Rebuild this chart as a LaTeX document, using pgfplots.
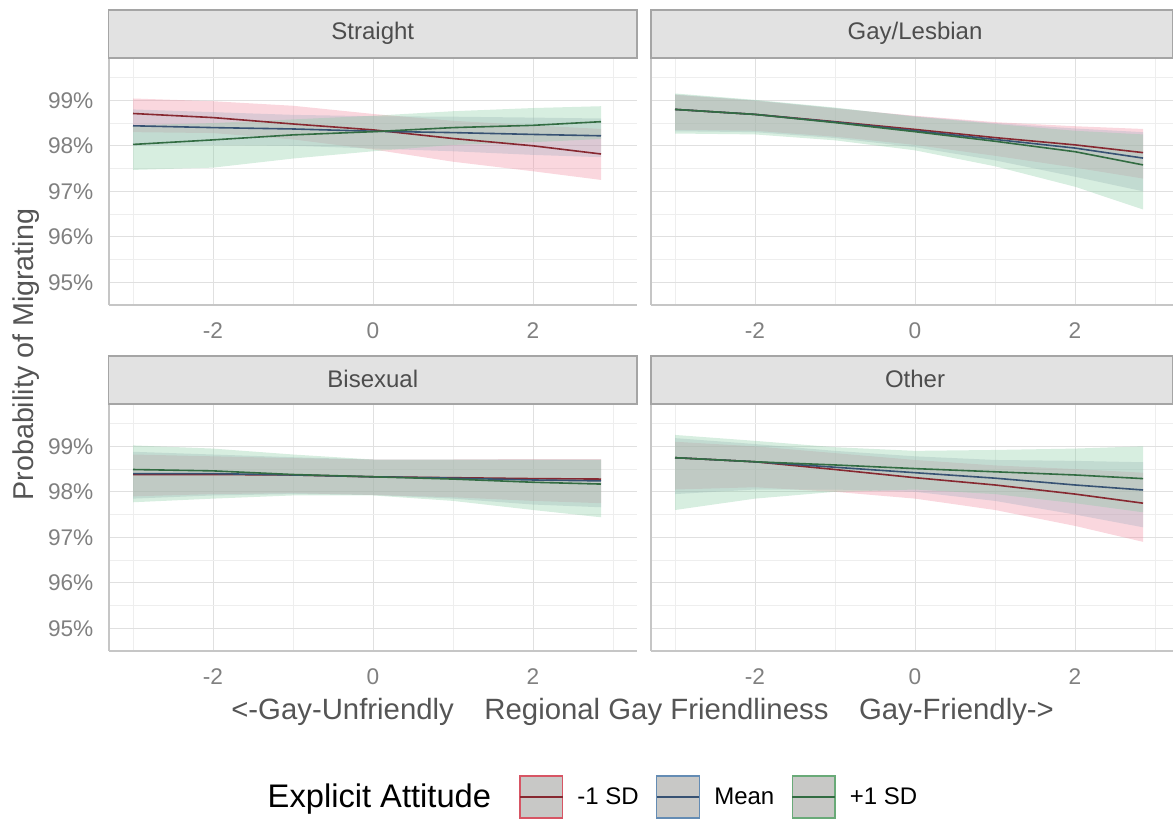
\documentclass[border=0pt]{standalone}
\usepackage{fontspec}
\setmainfont{Liberation Sans}
\usepackage{pgfplots}
\pgfplotsset{compat=1.18}
\usepackage{pgfplotstable}
\usepgfplotslibrary{fillbetween}

\definecolor{redfill}{RGB}{240,140,160}
\definecolor{greenfill}{RGB}{140,205,165}
\definecolor{bluefill}{RGB}{165,175,195}
\definecolor{redline}{RGB}{135,40,48}
\definecolor{blueline}{RGB}{55,82,115}
\definecolor{greenline}{RGB}{50,108,66}
\definecolor{redkey}{RGB}{215,85,100}
\definecolor{bluekey}{RGB}{100,140,180}
\definecolor{greenkey}{RGB}{105,170,120}
\definecolor{keyfill}{RGB}{200,200,198}
\definecolor{stripfill}{RGB}{226,226,226}
\definecolor{stripdraw}{RGB}{165,165,165}
\definecolor{gridmaj}{RGB}{224,224,224}
\definecolor{gridmin}{RGB}{238,238,238}
\definecolor{ticktext}{RGB}{128,128,128}
\definecolor{striptext}{RGB}{77,77,77}
\definecolor{titletext}{RGB}{85,85,85}

% x  = regional gay friendliness; r/b/g = -1 SD / Mean / +1 SD; m = line, l/h = ribbon
\pgfplotstableread{
x     rm    rl    rh    bm    bl    bh    gm    gl    gh
-3    98.71 98.30 99.04 98.44 98.00 98.80 98.03 97.47 98.45
-2    98.62 98.28 98.98 98.40 98.02 98.74 98.13 97.52 98.50
-1    98.48 98.14 98.88 98.37 98.00 98.68 98.24 97.72 98.58
0     98.35 97.92 98.70 98.32 97.94 98.65 98.31 97.88 98.66
1     98.16 97.65 98.55 98.29 97.88 98.64 98.40 98.02 98.76
2     98.00 97.44 98.45 98.25 97.80 98.62 98.45 98.08 98.83
2.85  97.82 97.25 98.37 98.22 97.75 98.60 98.53 98.15 98.87
}\Straight

\pgfplotstableread{
x     rm    rl    rh    bm    bl    bh    gm    gl    gh
-3    98.80 98.35 99.12 98.80 98.32 99.13 98.80 98.27 99.15
-2    98.69 98.33 98.99 98.69 98.30 99.00 98.69 98.25 99.01
-1    98.53 98.20 98.82 98.52 98.17 98.83 98.51 98.12 98.84
0     98.36 98.02 98.66 98.33 97.97 98.65 98.31 97.90 98.64
1     98.18 97.78 98.52 98.14 97.68 98.50 98.10 97.55 98.48
2     98.02 97.52 98.43 97.95 97.32 98.38 97.87 97.10 98.33
2.85  97.85 97.28 98.37 97.73 97.00 98.30 97.58 96.60 98.25
}\GayLesbian

\pgfplotstableread{
x     rm    rl    rh    bm    bl    bh    gm    gl    gh
-3    98.38 97.90 98.82 98.40 97.85 98.88 98.49 97.77 99.02
-2    98.38 97.95 98.78 98.40 97.92 98.82 98.46 97.85 98.95
-1    98.37 97.97 98.74 98.37 97.95 98.76 98.38 97.92 98.82
0     98.33 97.93 98.71 98.33 97.93 98.71 98.33 97.92 98.71
1     98.31 97.88 98.71 98.30 97.85 98.71 98.28 97.80 98.71
2     98.29 97.80 98.72 98.26 97.72 98.71 98.21 97.60 98.71
2.85  98.28 97.75 98.72 98.24 97.66 98.71 98.17 97.44 98.71
}\Bisexual

\pgfplotstableread{
x     rm    rl    rh    bm    bl    bh    gm    gl    gh
-3    98.75 98.05 99.10 98.75 97.95 99.18 98.75 97.60 99.25
-2    98.66 98.10 99.00 98.66 98.05 99.05 98.66 97.85 99.12
-1    98.49 98.00 98.85 98.54 98.05 98.90 98.59 98.00 98.98
0     98.31 97.85 98.70 98.42 98.00 98.78 98.51 98.05 98.90
1     98.15 97.60 98.58 98.30 97.80 98.70 98.44 97.95 98.92
2     97.95 97.25 98.50 98.15 97.50 98.68 98.37 97.75 98.95
2.85  97.75 96.90 98.42 98.04 97.22 98.65 98.29 97.55 99.00
}\Other

\newcommand{\panelplots}[1]{%
  \addplot[name path=RH, draw=none, forget plot] table[x=x,y=rh]{#1};
  \addplot[name path=RL, draw=none, forget plot] table[x=x,y=rl]{#1};
  \addplot[redfill, fill opacity=0.35, draw=none, forget plot] fill between[of=RH and RL];
  \addplot[name path=BH, draw=none, forget plot] table[x=x,y=bh]{#1};
  \addplot[name path=BL, draw=none, forget plot] table[x=x,y=bl]{#1};
  \addplot[bluefill, fill opacity=0.35, draw=none, forget plot] fill between[of=BH and BL];
  \addplot[name path=GH, draw=none, forget plot] table[x=x,y=gh]{#1};
  \addplot[name path=GL, draw=none, forget plot] table[x=x,y=gl]{#1};
  \addplot[greenfill, fill opacity=0.35, draw=none, forget plot] fill between[of=GH and GL];
  \addplot[redline, line width=1.2pt, forget plot] table[x=x,y=rm]{#1};
  \addplot[blueline, line width=1.2pt, forget plot] table[x=x,y=bm]{#1};
  \addplot[greenline, line width=1.2pt, forget plot] table[x=x,y=gm]{#1};
}

\pgfplotsset{panel/.style={
  scale only axis, height=185.25pt, anchor=north west,
  xmin=-3.3, ymin=94.5, ymax=99.93,
  xtick={-2,0,2}, minor xtick={-3,-1,1,3},
  ytick={95,96,97,98,99}, minor ytick={95.5,96.5,97.5,98.5,99.5},
  grid=both,
  major grid style={draw=gridmaj, line width=0.75pt},
  minor grid style={draw=gridmin, line width=0.5pt},
  axis lines*=left,
  axis line style={draw=gray!45, line width=0.8pt, -},
  major tick length=0pt, minor tick length=0pt,
  xticklabels={-2,0,2},
  xticklabel style={font=\fontsize{17}{18}\selectfont, text=ticktext, anchor=north, inner sep=0pt, yshift=-13pt},
  yticklabel style={font=\fontsize{17}{18}\selectfont, text=ticktext, anchor=east, inner sep=0pt, xshift=-11.5pt},
},
leftpanel/.style={panel, width=396pt, xmax=3.3, yticklabels={95\%,96\%,97\%,98\%,99\%}},
rightpanel/.style={panel, width=391.5pt, xmax=3.225, yticklabels={,,,,}},
}

\begin{document}
\begin{tikzpicture}
% strips
\begin{scope}[font=\fontsize{18}{20}\selectfont, text=striptext]
\draw[fill=stripfill, draw=stripdraw, line width=0.8pt] (81.5pt,-7.5pt) rectangle (477.75pt,-43.5pt);
\node at (279.6pt,-25pt) {Straight};
\draw[fill=stripfill, draw=stripdraw, line width=0.8pt] (488.25pt,-7.5pt) rectangle (879.75pt,-43.5pt);
\node at (686.25pt,-25pt) {Gay/Lesbian};
\draw[fill=stripfill, draw=stripdraw, line width=0.8pt] (81.5pt,-267pt) rectangle (477.75pt,-303pt);
\node at (279.6pt,-284.5pt) {Bisexual};
\draw[fill=stripfill, draw=stripdraw, line width=0.8pt] (488.25pt,-267pt) rectangle (879.75pt,-303pt);
\node at (686.25pt,-284.5pt) {Other};
\end{scope}

\begin{axis}[leftpanel, at={(81.75pt,-43.5pt)}]
\panelplots{\Straight}
\end{axis}

\begin{axis}[rightpanel, at={(488.25pt,-43.5pt)}]
\panelplots{\GayLesbian}
\end{axis}

\begin{axis}[leftpanel, at={(81.75pt,-303pt)},
  legend columns=-1,
  legend style={at={(0.905,-0.591)}, anchor=center, draw=none, fill=none,
    font=\fontsize{18}{20}\selectfont,
    /tikz/every even column/.append style={column sep=11pt},
    /tikz/every odd column/.append style={column sep=8.5pt}},
]
\panelplots{\Bisexual}
\addlegendimage{empty legend}
\addlegendentry{\fontsize{24.5}{26}\selectfont Explicit Attitude\kern8pt\mbox{}}
\addlegendimage{legend image code/.code={\draw[fill=keyfill, draw=redkey, line width=1pt] (0pt,-15.75pt) rectangle (32pt,15.75pt); \draw[redline, line width=1.2pt] (0pt,0pt) -- (32pt,0pt);}}
\addlegendentry{-1 SD}
\addlegendimage{legend image code/.code={\draw[fill=keyfill, draw=bluekey, line width=1pt] (0pt,-15.75pt) rectangle (32pt,15.75pt); \draw[blueline, line width=1.2pt] (0pt,0pt) -- (32pt,0pt);}}
\addlegendentry{Mean}
\addlegendimage{legend image code/.code={\draw[fill=keyfill, draw=greenkey, line width=1pt] (0pt,-15.75pt) rectangle (32pt,15.75pt); \draw[greenline, line width=1.2pt] (0pt,0pt) -- (32pt,0pt);}}
\addlegendentry{+1 SD}
\end{axis}

\begin{axis}[rightpanel, at={(488.25pt,-303pt)}]
\panelplots{\Other}
\end{axis}

\node[rotate=90, font=\fontsize{21.5}{23}\selectfont, text=titletext] at (19.5pt,-266pt) {Probability of Migrating};
\node[font=\fontsize{22}{24}\selectfont, text=titletext] at (482pt,-534pt) {<-Gay-Unfriendly\hspace{23pt}Regional Gay Friendliness\hspace{23pt}Gay-Friendly->};
\pgfresetboundingbox
\path[use as bounding box] (0pt,0pt) rectangle (879.75pt,-616.5pt);
\end{tikzpicture}
\end{document}
